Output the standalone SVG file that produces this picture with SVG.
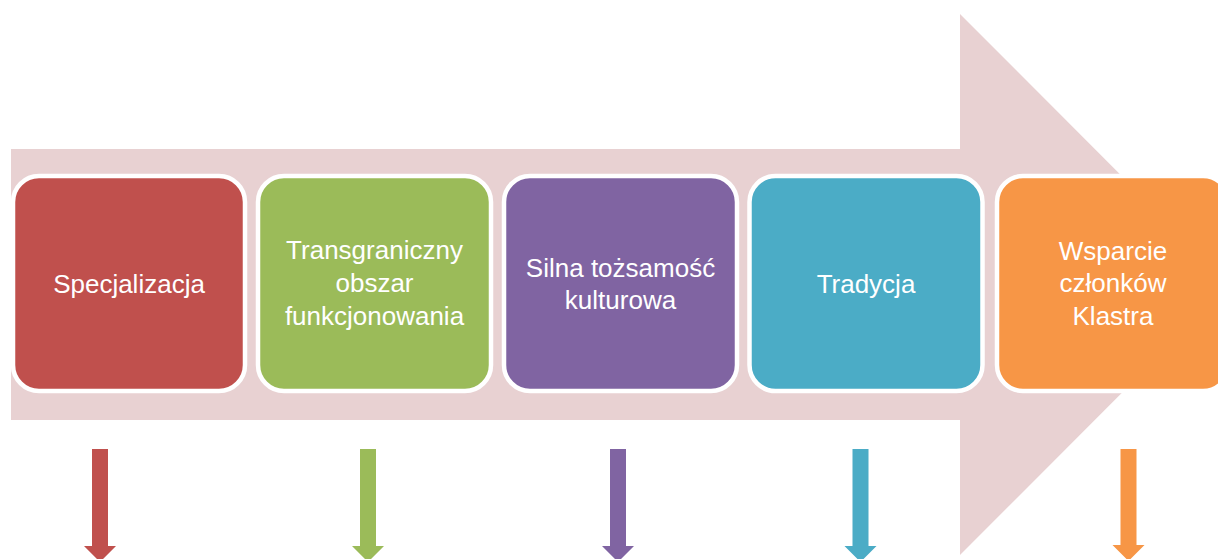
<svg xmlns="http://www.w3.org/2000/svg" width="1218" height="559" viewBox="0 0 1218 559">
<style>
.box{stroke:#FFFFFF;stroke-width:4.5}
.t{font-family:"Liberation Sans",Arial,sans-serif;font-size:26px;fill:#FFFFFF;text-anchor:middle}
</style>
<rect width="1218" height="559" fill="#FFFFFF"/>
<g id="bigArrow">
<polygon points="11,149 960,149 960,14 1230,284.5 960,555 960,420 11,420" fill="#E8D1D2"/>
</g>
<g id="connectors">
<polygon points="92,449 108,449 108,546 116,546 100,562 84,546 92,546" fill="#C0504D"/>
<polygon points="360,449 376,449 376,546 384,546 368,562 352,546 360,546" fill="#9BBB59"/>
<polygon points="610,449 626,449 626,546 634,546 618,562 602,546 610,546" fill="#8064A2"/>
<polygon points="852.5,449 868.5,449 868.5,546 876.5,546 860.5,562 844.5,546 852.5,546" fill="#4BACC6"/>
<polygon points="1120.5,449 1136.5,449 1136.5,545 1144.5,545 1128.5,561 1112.5,545 1120.5,545" fill="#F79646"/>
</g>
<g id="node1">
<rect class="box" x="13" y="176" width="232" height="215" rx="26" fill="#C0504D"/>
<text class="t" x="129" y="293">Specjalizacja</text>
</g>
<g id="node2">
<rect class="box" x="258" y="176" width="233" height="215" rx="26" fill="#9BBB59"/>
<text class="t" x="374.5" y="259">Transgraniczny</text>
<text class="t" x="374.5" y="292">obszar</text>
<text class="t" x="374.5" y="325">funkcjonowania</text>
</g>
<g id="node3">
<rect class="box" x="504" y="176" width="233" height="215" rx="26" fill="#8064A2"/>
<text class="t" x="620.5" y="277">Silna tożsamość</text>
<text class="t" x="620.5" y="309">kulturowa</text>
</g>
<g id="node4">
<rect class="box" x="749.5" y="176" width="233" height="215" rx="26" fill="#4BACC6"/>
<text class="t" x="866" y="293">Tradycja</text>
</g>
<g id="node5">
<rect class="box" x="997" y="176" width="232" height="215" rx="26" fill="#F79646"/>
<text class="t" x="1113" y="260">Wsparcie</text>
<text class="t" x="1113" y="292">członków</text>
<text class="t" x="1113" y="325">Klastra</text>
</g>
</svg>
